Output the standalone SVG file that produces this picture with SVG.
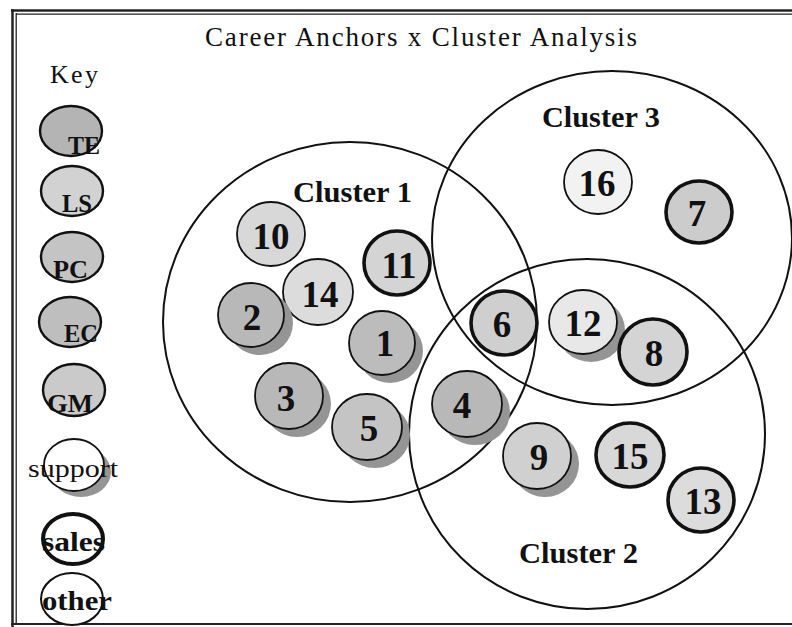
<svg xmlns="http://www.w3.org/2000/svg" width="792" height="627" viewBox="0 0 792 627">
<style>
.t{font-family:"Liberation Serif","Times New Roman",serif;fill:#111}
.b{font-weight:bold}
.num{font-family:"Liberation Serif","Times New Roman",serif;font-weight:bold;font-size:37px;fill:#111;text-anchor:middle}
.big{fill:none;stroke:#111;stroke-width:2}
.thin{stroke:#111;stroke-width:1.8}
.thick{stroke:#111;stroke-width:3.6}
.key{stroke:#111;stroke-width:2.4}
.sh{fill:#959595}
</style>
<rect width="792" height="627" fill="#fff"/>
<g id="frame" stroke="#222" fill="none">
<line x1="12.5" y1="9" x2="12.5" y2="627" stroke-width="2.5"/>
<line x1="16.2" y1="13" x2="16.2" y2="623" stroke-width="1.3"/>
<line x1="11" y1="10.5" x2="792" y2="10.5" stroke-width="2.5"/>
<line x1="16" y1="14.2" x2="792" y2="14.2" stroke-width="1.2"/>
<line x1="11" y1="624" x2="792" y2="624" stroke-width="2.2"/>
</g>
<text class="t" x="205" y="46" font-size="27" textLength="432" lengthAdjust="spacing">Career Anchors x Cluster Analysis</text>
<text class="t" x="50" y="83" font-size="26" textLength="48" lengthAdjust="spacing">Key</text>
<g id="connectors"></g>
<g id="clusters">
<g id="cluster1"><ellipse class="big" cx="350" cy="322" rx="187" ry="180"/><text class="t b" x="293" y="202" font-size="29" textLength="119" lengthAdjust="spacingAndGlyphs">Cluster 1</text></g>
<g id="cluster3"><ellipse class="big" cx="612" cy="238" rx="180" ry="167"/><text class="t b" x="542" y="127" font-size="29" textLength="118" lengthAdjust="spacingAndGlyphs">Cluster 3</text></g>
<g id="cluster2"><ellipse class="big" cx="587" cy="434" rx="178" ry="175"/><text class="t b" x="519" y="563" font-size="29" textLength="119" lengthAdjust="spacingAndGlyphs">Cluster 2</text></g>
</g>
<g id="legend">
<g id="key-te"><ellipse class="key" cx="71" cy="131" rx="31" ry="25" fill="#b4b4b4"/><text class="t b" x="68" y="154" font-size="26" textLength="32" lengthAdjust="spacingAndGlyphs">TE</text></g>
<g id="key-ls"><ellipse class="key" cx="72" cy="191" rx="31" ry="25" fill="#d2d2d2"/><text class="t b" x="62" y="212" font-size="26" textLength="30" lengthAdjust="spacingAndGlyphs">LS</text></g>
<g id="key-pc"><ellipse class="key" cx="72" cy="257" rx="31" ry="25" fill="#c4c4c4"/><text class="t b" x="53" y="278" font-size="26" textLength="35" lengthAdjust="spacingAndGlyphs">PC</text></g>
<g id="key-ec"><ellipse class="key" cx="70" cy="322" rx="31" ry="25" fill="#bebebe"/><text class="t b" x="64" y="342" font-size="26" textLength="34" lengthAdjust="spacingAndGlyphs">EC</text></g>
<g id="key-gm"><ellipse class="key" cx="74" cy="390" rx="31" ry="26" fill="#cacaca"/><text class="t b" x="47" y="412" font-size="26" textLength="46" lengthAdjust="spacingAndGlyphs">GM</text></g>
<g id="key-support"><ellipse class="sh" cx="81" cy="472" rx="30" ry="25"/><ellipse cx="74" cy="465" rx="30" ry="26" fill="#fff" stroke="#111" stroke-width="1.8"/><text class="t" x="28" y="477" font-size="26" textLength="90" lengthAdjust="spacingAndGlyphs">support</text></g>
<g id="key-sales"><ellipse cx="73" cy="539" rx="30" ry="25" fill="#fff" stroke="#111" stroke-width="4"/><text class="t b" x="42" y="551" font-size="28" textLength="63" lengthAdjust="spacingAndGlyphs">sales</text></g>
<g id="key-other"><ellipse cx="72" cy="599" rx="31" ry="26" fill="#fff" stroke="#111" stroke-width="2"/><text class="t b" x="42" y="610" font-size="28" textLength="70" lengthAdjust="spacingAndGlyphs">other</text></g>
</g>
<g id="nodes">
<g id="n10"><ellipse class="thin" cx="271" cy="234" rx="34" ry="32" fill="#d8d8d8"/><text class="num" x="271" y="249">10</text></g>
<g id="n14"><ellipse class="thin" cx="318" cy="292" rx="35" ry="33" fill="#dcdcdc"/><text class="num" x="320" y="307">14</text></g>
<g id="n11"><ellipse class="thick" cx="397" cy="263" rx="33" ry="32" fill="#d4d4d4"/><text class="num" x="399" y="278">11</text></g>
<g id="n2"><ellipse class="sh" cx="260" cy="323" rx="33" ry="32"/><ellipse class="thin" cx="251" cy="315" rx="33" ry="32" fill="#b8b8b8"/><text class="num" x="252" y="330">2</text></g>
<g id="n1"><ellipse class="sh" cx="390" cy="351" rx="33" ry="32"/><ellipse class="thin" cx="382" cy="343" rx="33" ry="32" fill="#bcbcbc"/><text class="num" x="385" y="356">1</text></g>
<g id="n3"><ellipse class="sh" cx="297" cy="404" rx="34" ry="33"/><ellipse class="thin" cx="289" cy="396" rx="34" ry="33" fill="#b8b8b8"/><text class="num" x="286" y="411">3</text></g>
<g id="n5"><ellipse class="sh" cx="375" cy="435" rx="35" ry="33"/><ellipse class="thin" cx="367" cy="427" rx="35" ry="33" fill="#c4c4c4"/><text class="num" x="369" y="441">5</text></g>
<g id="n4"><ellipse class="sh" cx="475" cy="412" rx="35" ry="33"/><ellipse class="thin" cx="467" cy="404" rx="35" ry="33" fill="#b8b8b8"/><text class="num" x="462" y="418">4</text></g>
<g id="n9"><ellipse class="sh" cx="545" cy="464" rx="34" ry="33"/><ellipse class="thin" cx="537" cy="456" rx="34" ry="33" fill="#d0d0d0"/><text class="num" x="539" y="470">9</text></g>
<g id="n15"><ellipse class="thick" cx="630" cy="455" rx="34" ry="32" fill="#d8d8d8"/><text class="num" x="630" y="469">15</text></g>
<g id="n13"><ellipse class="thick" cx="701" cy="500" rx="33" ry="32" fill="#dcdcdc"/><text class="num" x="703" y="514">13</text></g>
<g id="n6"><ellipse class="thick" cx="504" cy="323" rx="33" ry="32" fill="#cfcfcf"/><text class="num" x="502" y="337">6</text></g>
<g id="n12"><ellipse class="sh" cx="591" cy="330" rx="34" ry="32"/><ellipse class="thin" cx="583" cy="322" rx="34" ry="32" fill="#e8e8e8"/><text class="num" x="583" y="336">12</text></g>
<g id="n8"><ellipse class="thick" cx="653" cy="352" rx="34" ry="33" fill="#d4d4d4"/><text class="num" x="654" y="366">8</text></g>
<g id="n16"><ellipse class="thin" cx="598" cy="182" rx="34" ry="32" fill="#f2f2f2"/><text class="num" x="597" y="196">16</text></g>
<g id="n7"><ellipse class="thick" cx="699" cy="212" rx="33" ry="31" fill="#cccccc"/><text class="num" x="697" y="226">7</text></g>
</g>
</svg>
